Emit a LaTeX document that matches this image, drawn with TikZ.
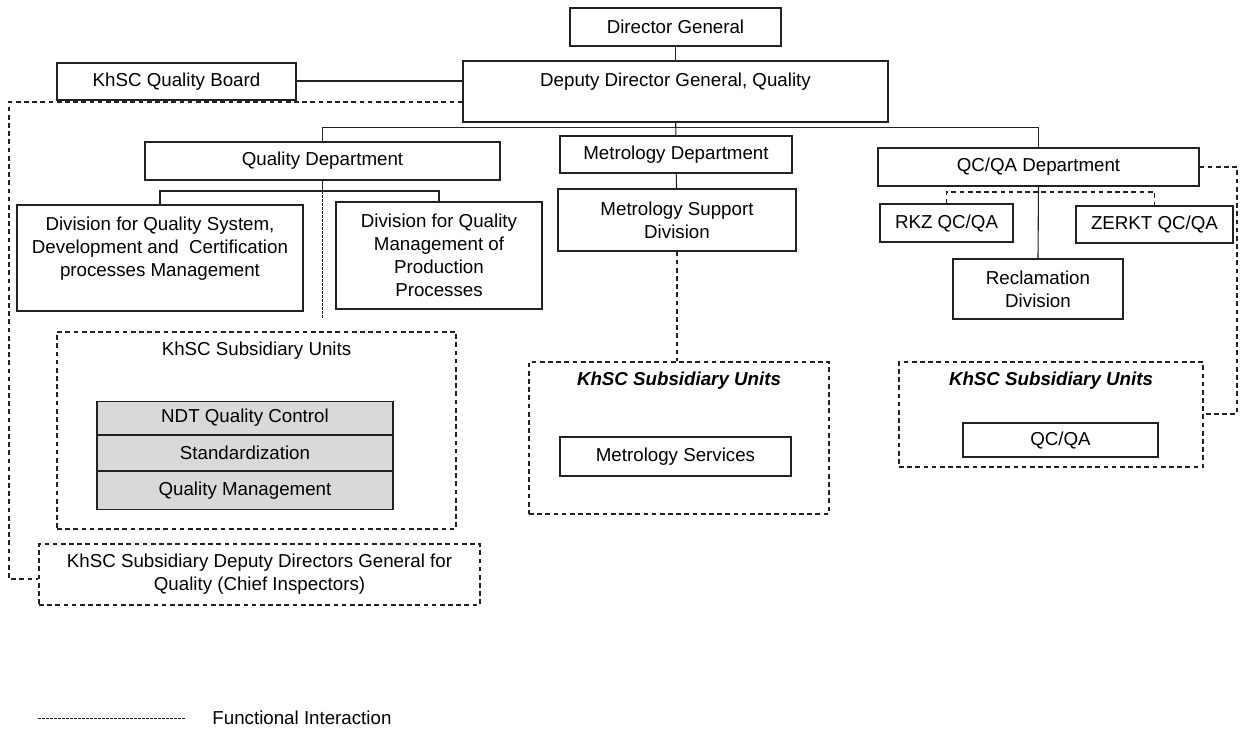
\documentclass[tikz,border=0pt]{standalone}
\usepackage{fontspec}
\setmainfont{Liberation Sans}
\usepackage{xcolor}
\usepackage{tikz}
\usetikzlibrary{calc}
\usetikzlibrary{positioning}
\definecolor{unitgray}{HTML}{D9D9D9}
\definecolor{linegray}{HTML}{222222}

\begin{document}
\begin{tikzpicture}[x=0.55pt, y=-0.55pt,
        font=\fontsize{10.3}{12.6}\selectfont]

                \def\px{0.55pt}

                % Boxes and lines of the chart
                \tikzset{
                    unit/.style={draw=linegray, line width=0.6pt,
                        inner sep=0pt, align=center},
                    subunits/.style={unit, dash pattern=on 2.6pt off 1.9pt},
                    graybox/.style={unit, fill=unitgray,
                        minimum width=296*\px},
                    func/.style={linegray, line width=0.6pt,
                        dash pattern=on 2.6pt off 1.9pt},
                    finefunc/.style={linegray, line width=0.5pt,
                        dash pattern=on 1.4pt off 0.8pt},
                    title/.style={font=\fontsize{10.3}{12.6}\selectfont\bfseries\itshape}
                }

                \useasboundingbox (0,0) rectangle (1240,730);

                % Top of the chart
                \node[unit, minimum width=211*\px, minimum height=38*\px]
                    (dg) at (675.5,27) {Director General};
                \node[unit, minimum width=425*\px, minimum height=61*\px]
                    (deputy) at (675.5,91.5)
                    {Deputy Director General, Quality\\ \mbox{}};
                \node[unit, minimum width=239*\px, minimum height=37*\px]
                    (board) at (176.5,81.5) {KhSC Quality Board};

                % Departments
                \node[unit, minimum width=355*\px, minimum height=38*\px]
                    (qdep) at (322.5,161) {Quality Department};
                \node[unit, minimum width=232*\px, minimum height=37*\px]
                    (metdep) at (676,154.5) {Metrology Department};
                \node[unit, minimum width=321*\px, minimum height=38*\px]
                    (qcdep) at (1038.5,167) {QC/QA Department};

                % Divisions
                \node[unit, minimum width=286*\px, minimum height=106*\px]
                    (div1) at (160,258)
                    {Division for Quality System,\\
                     Development and\ \ Certification\\
                     processes Management\\ \mbox{}};
                \node[unit, minimum width=206*\px, minimum height=107*\px]
                    (div2) at (439,255.5)
                    {Division for Quality\\ Management of\\
                     Production\\ Processes};
                \node[unit, minimum width=238*\px, minimum height=62*\px]
                    (metsup) at (677,220) {Metrology Support\\ Division};
                \node[unit, minimum width=133*\px, minimum height=38*\px]
                    (rkz) at (946.5,223) {RKZ QC/QA};
                \node[unit, minimum width=157*\px, minimum height=37*\px]
                    (zerkt) at (1154.5,224.5) {ZERKT QC/QA};
                \node[unit, minimum width=170*\px, minimum height=60*\px]
                    (recl) at (1038,289) {Reclamation\\ Division};

                % Subsidiary units
                \node[subunits, minimum width=399*\px, minimum height=197*\px]
                    (lsub) at (256.5,430.5) {};
                \node (lsubt) at (256.5,351) {KhSC Subsidiary Units};
                \node[graybox, minimum height=33*\px]
                    (ndt) at (245,418) {NDT Quality Control};
                \node[graybox, minimum height=35*\px, below=0pt of ndt]
                    (std) {Standardization};
                \node[graybox, minimum height=38*\px, below=0pt of std]
                    (qm) {Quality Management};

                \node[subunits, minimum width=300*\px, minimum height=152*\px]
                    (metunits) at (679,438) {};
                \node[title] (metunitst) at (679,381) {KhSC Subsidiary Units};
                \node[unit, minimum width=231*\px, minimum height=39*\px]
                    (metserv) at (675.5,456.5) {Metrology Services};

                \node[subunits, minimum width=304*\px, minimum height=105*\px]
                    (qcunits) at (1051,414.5) {};
                \node[title] (qcunitst) at (1051,381) {KhSC Subsidiary Units};
                \node[unit, minimum width=195*\px, minimum height=34*\px]
                    (qcqa) at (1060.5,440) {QC/QA};

                \node[subunits, minimum width=441*\px, minimum height=61*\px]
                    (ddg) at (259.5,574.5)
                    {KhSC Subsidiary Deputy Directors General for\\
                     Quality (Chief Inspectors)};

                % Helper points for the lines
                \coordinate (ftop) at (9,102);
                \coordinate (fbot) at (9,579);
                \coordinate (qbus) at (322.5,191);
                \coordinate (qend) at (322.5,319);
                \coordinate (qcbus) at (1038.5,192);
                \coordinate (qcr) at (1237,414);

                \begin{scope}[linegray, line width=0.6pt]
                    \draw (dg) -- (deputy);
                    \draw (deputy) -- (metdep);
                    \draw (metdep) -- (metsup);
                    \draw (qdep.north)
                        |- ($(deputy.south)!.35!(metdep.north)$)
                        -| (qcdep.north);
                    \draw (qdep.south) -- (qbus);
                    \draw (div1.north) |- (qbus) -| (div2.north);
                    \draw (qcdep.south) -- (recl.north);
                    \draw[line width=1.1pt]
                        (board.east) -- (board.east -| deputy.west);
                \end{scope}

                \begin{scope}[func]
                    \draw (ftop -| deputy.west) -- (ftop) -- (fbot)
                        -- (fbot -| ddg.west);
                    \draw (metsup.south) -- (metsup.south |- metunits.north);
                    \draw (rkz.north) |- (qcbus) -| (zerkt.north);
                    \draw (qcdep.east) -| (qcr) -- (qcr -| qcunits.east);
                \end{scope}
                \draw[finefunc] (qbus) -- (qend);

                % Legend
                \coordinate (lg1) at (38,718);
                \coordinate (lg2) at (185,718);
                \draw[finefunc] (lg1) -- (lg2);
                \node[anchor=west] (lgt) at (206,718) {Functional Interaction};

\end{tikzpicture}
\end{document}
